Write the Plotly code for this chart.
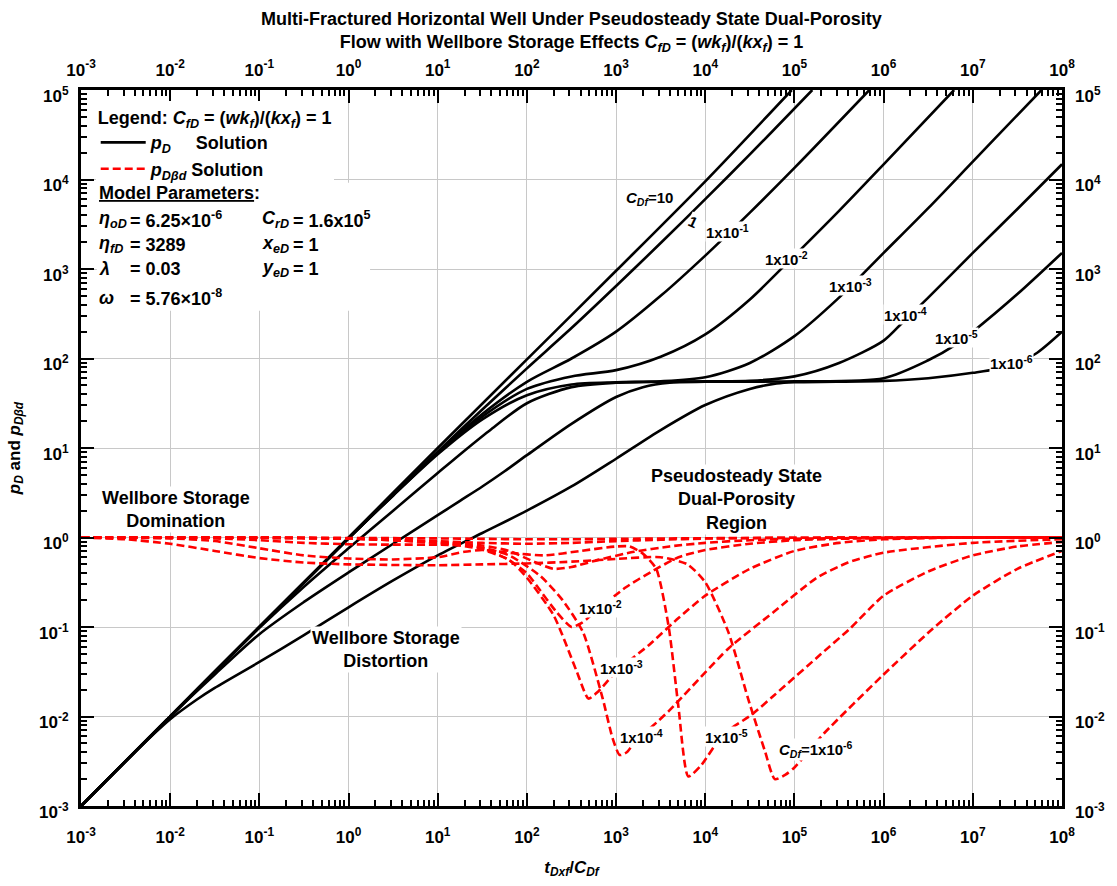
import numpy as np
import plotly.graph_objects as go

# ---------------- data (log10 values) ----------------
cdf_names = ["10", "1", "1e-1", "1e-2", "1e-3", "1e-4", "1e-5", "1e-6"]

# p_D solution curves: log10(tDxf/CDf) and log10(pD)
pd_10_lx = [-3, -2, -1, 0, 1, 2, 3, 4, 4.97]
pd_10_ly = [-3, -2, -1, 0, 1, 1.99, 2.98, 3.98, 5.0]
pd_1_lx = [-3, -2, -1, 0, 0.5, 1, 1.5, 2, 2.5, 3, 3.5, 4, 4.5, 5.2]
pd_1_ly = [-3, -2, -1, -0.01, 0.48, 0.96, 1.43, 1.89, 2.34, 2.81, 3.29, 3.78, 4.28, 5.0]
pd_1e1_lx = [-3, -2, -1, 0, 0.5, 1, 1.5, 2, 2.5, 3, 3.5, 4, 4.5, 5, 5.84]
pd_1e1_ly = [-3, -2, -1, -0.01, 0.48, 0.95, 1.38, 1.74, 2.0, 2.3, 2.7, 3.15, 3.63, 4.13, 5.0]
pd_1e2_lx = [-3, -2, -1, 0, 0.5, 1, 1.5, 2, 2.5, 3, 3.5, 4, 4.5, 5, 5.5, 6, 6.79]
pd_1e2_ly = [-3, -2, -1, -0.01, 0.47, 0.94, 1.35, 1.66, 1.8, 1.87, 2.02, 2.27, 2.66, 3.15, 3.65, 4.17, 5.0]
pd_1e3_lx = [-3, -2, -1, 0, 0.5, 1, 1.5, 2, 2.5, 3, 3.5, 4, 4.5, 5, 5.5, 6, 6.5, 7, 7.5, 7.77]
pd_1e3_ly = [-3, -2, -1, -0.01, 0.47, 0.93, 1.32, 1.59, 1.71, 1.735, 1.745, 1.79, 1.95, 2.25, 2.68, 3.18, 3.68, 4.2, 4.72, 5.0]
pd_1e4_lx = [-3, -2, -1.5, -1, -0.5, 0, 0.5, 1, 1.3, 1.6, 2, 2.5, 3, 3.5, 4, 4.5, 5, 5.5, 6, 6.21, 6.5, 7, 7.5, 8]
pd_1e4_ly = [-3, -2, -1.5, -1.01, -0.55, -0.12, 0.3, 0.72, 0.97, 1.21, 1.5, 1.68, 1.73, 1.74, 1.745, 1.75, 1.8, 1.95, 2.2, 2.4, 2.68, 3.18, 3.67, 4.17]
pd_1e5_lx = [-3, -2, -1.5, -1, -0.5, 0, 0.5, 1, 1.25, 1.5, 1.75, 2, 2.5, 3, 3.3, 3.6, 4, 5, 6, 6.5, 6.8, 7, 7.5, 8]
pd_1e5_ly = [-3, -2, -1.53, -1.08, -0.72, -0.39, -0.07, 0.25, 0.41, 0.57, 0.74, 0.92, 1.27, 1.57, 1.68, 1.73, 1.74, 1.745, 1.78, 1.98, 2.15, 2.3, 2.72, 3.18]
pd_1e6_lx = [-3, -2.5, -2.2, -2, -1.7, -1.5, -1, -0.5, 0, 0.5, 1, 1.5, 2, 2.5, 3, 3.5, 4, 4.5, 4.8, 5, 6, 6.5, 7, 7.43, 7.7, 8]
pd_1e6_ly = [-3, -2.5, -2.21, -2.03, -1.81, -1.68, -1.39, -1.09, -0.78, -0.48, -0.2, 0.05, 0.3, 0.57, 0.88, 1.2, 1.48, 1.66, 1.72, 1.735, 1.75, 1.78, 1.84, 1.92, 2.05, 2.3]

# p_Dbd solution curves: log10(tDxf/CDf) and log10(pDbd)
pb_10_lx = [-3, -1, 0, 1, 1.5, 2, 2.5, 3, 4, 5, 6, 8]
pb_10_ly = [0, 0, -0.005, -0.01, -0.015, -0.02, -0.02, -0.015, -0.008, -0.003, 0, 0]
pb_1_lx = [-3, -1, 0, 0.5, 1, 1.5, 2, 2.5, 3, 3.5, 4, 5, 6, 8]
pb_1_ly = [0, -0.003, -0.01, -0.025, -0.04, -0.06, -0.07, -0.06, -0.04, -0.025, -0.012, -0.003, 0, 0]
pb_1e1_lx = [-3, -1, 0, 0.5, 1, 1.5, 1.8, 2.1, 2.3, 2.5, 2.8, 3.2, 3.6, 4, 4.5, 5, 6, 8]
pb_1e1_ly = [0, -0.003, -0.012, -0.03, -0.05, -0.09, -0.15, -0.28, -0.35, -0.33, -0.25, -0.16, -0.1, -0.06, -0.03, -0.015, -0.003, 0]
pb_1e2_lx = [-3, -1, 0, 0.5, 1, 1.44, 1.78, 2.0, 2.11, 2.33, 2.5, 2.62, 2.8, 3.11, 3.4, 3.7, 4, 4.5, 5, 5.5, 6, 7, 8]
pb_1e2_ly = [0, -0.003, -0.012, -0.03, -0.06, -0.1, -0.24, -0.4, -0.54, -0.83, -1.0, -0.95, -0.8, -0.556, -0.38, -0.22, -0.14, -0.07, -0.03, -0.015, -0.006, 0, 0]
pb_1e3_lx = [-3, -1, 0, 0.5, 1, 1.44, 1.8, 2.0, 2.3, 2.56, 2.69, 2.8, 3.0, 3.37, 3.7, 4, 4.5, 5, 5.5, 6, 7, 8]
pb_1e3_ly = [0, -0.003, -0.012, -0.03, -0.06, -0.12, -0.25, -0.45, -0.87, -1.5, -1.8, -1.72, -1.5, -1.2, -0.9, -0.65, -0.35, -0.15, -0.06, -0.02, 0, 0]
pb_1e4_lx = [-3, -1.5, -1, -0.5, 0, 0.5, 1, 1.44, 1.8, 2.15, 2.4, 2.63, 2.85, 2.96, 3.04, 3.12, 3.2, 3.59, 4.26, 4.77, 5.25, 5.6, 6, 7, 8]
pb_1e4_ly = [0, -0.01, -0.03, -0.06, -0.075, -0.08, -0.08, -0.1, -0.2, -0.43, -0.7, -1.06, -1.8, -2.24, -2.43, -2.4, -2.3, -1.94, -1.24, -0.83, -0.45, -0.28, -0.17, -0.06, -0.02]
pb_1e5_lx = [-3, -2, -1.5, -1, -0.5, 0, 0.5, 1, 1.3, 1.5, 1.8, 2.2, 2.6, 3.0, 3.15, 3.3, 3.45, 3.59, 3.7, 3.81, 3.95, 4.2, 4.52, 4.77, 5.3, 5.62, 6.0, 6.5, 7.0, 7.5, 8]
pb_1e5_ly = [0, -0.01, -0.04, -0.12, -0.2, -0.235, -0.245, -0.22, -0.16, -0.14, -0.17, -0.2, -0.15, -0.1, -0.1, -0.18, -0.35, -1.0, -1.9, -2.67, -2.55, -2.2, -1.98, -1.765, -1.3, -1.02, -0.65, -0.38, -0.2, -0.1, -0.05]
pb_1e6_lx = [-3, -2.5, -2, -1.5, -1, -0.5, 0, 1, 1.5, 2, 2.5, 3.0, 3.5, 3.8, 4.0, 4.26, 4.48, 4.67, 4.78, 4.9, 5.0, 5.33, 5.99, 6.55, 7.0, 7.5, 8]
pb_1e6_ly = [0, -0.02, -0.07, -0.15, -0.23, -0.28, -0.3, -0.31, -0.3, -0.29, -0.27, -0.24, -0.22, -0.3, -0.5, -1.06, -1.8, -2.39, -2.7, -2.65, -2.57, -2.19, -1.54, -1.02, -0.65, -0.35, -0.15]

pd_curves = [(pd_10_lx, pd_10_ly), (pd_1_lx, pd_1_ly), (pd_1e1_lx, pd_1e1_ly), (pd_1e2_lx, pd_1e2_ly),
             (pd_1e3_lx, pd_1e3_ly), (pd_1e4_lx, pd_1e4_ly), (pd_1e5_lx, pd_1e5_ly), (pd_1e6_lx, pd_1e6_ly)]
pb_curves = [(pb_10_lx, pb_10_ly), (pb_1_lx, pb_1_ly), (pb_1e1_lx, pb_1e1_ly), (pb_1e2_lx, pb_1e2_ly),
             (pb_1e3_lx, pb_1e3_ly), (pb_1e4_lx, pb_1e4_ly), (pb_1e5_lx, pb_1e5_ly), (pb_1e6_lx, pb_1e6_ly)]

# tick labels
x_tickvals = [1e-3, 1e-2, 1e-1, 1e0, 1e1, 1e2, 1e3, 1e4, 1e5, 1e6, 1e7, 1e8]
x_ticktext = ["10<sup>-3</sup>", "10<sup>-2</sup>", "10<sup>-1</sup>", "10<sup>0</sup>", "10<sup>1</sup>",
              "10<sup>2</sup>", "10<sup>3</sup>", "10<sup>4</sup>", "10<sup>5</sup>", "10<sup>6</sup>",
              "10<sup>7</sup>", "10<sup>8</sup>"]
y_tickvals = [1e-3, 1e-2, 1e-1, 1e0, 1e1, 1e2, 1e3, 1e4, 1e5]
y_ticktext = ["10<sup>-3</sup>", "10<sup>-2</sup>", "10<sup>-1</sup>", "10<sup>0</sup>", "10<sup>1</sup>",
              "10<sup>2</sup>", "10<sup>3</sup>", "10<sup>4</sup>", "10<sup>5</sup>"]
minor_digits = [2, 3, 4, 5, 6, 7, 8, 9]
x_minor_vals = [d * v for v in x_tickvals[:-1] for d in minor_digits]
y_minor_vals = [d * v for v in y_tickvals[:-1] for d in minor_digits]

# curve labels (log10 positions)
pd_label_text = ["<i>C</i><sub><i>Df</i></sub>=10", "1", "1x10<sup>-1</sup>", "1x10<sup>-2</sup>",
                 "1x10<sup>-3</sup>", "1x10<sup>-4</sup>", "1x10<sup>-5</sup>", "1x10<sup>-6</sup>"]
pd_label_lx = [3.37, 3.86, 4.25, 4.91, 5.63, 6.24, 6.82, 7.43]
pd_label_ly = [3.79, 3.53, 3.42, 3.12, 2.82, 2.49, 2.23, 1.96]
pd_label_angle = [0, 25, 0, 0, 0, 0, 0, 0]
pb_label_text = ["1x10<sup>-2</sup>", "1x10<sup>-3</sup>", "1x10<sup>-4</sup>", "1x10<sup>-5</sup>",
                 "<i>C</i><sub><i>Df</i></sub>=1x10<sup>-6</sup>"]
pb_label_lx = [2.83, 3.06, 3.29, 4.24, 5.24]
pb_label_ly = [-0.785, -1.455, -2.22, -2.22, -2.37]

# ---------------- figure ----------------
FONT = "Liberation Sans, Arial, sans-serif"
fig = go.Figure()

for i, (lx, ly) in enumerate(pd_curves):
    fig.add_trace(go.Scatter(
        x=10 ** np.array(lx), y=10 ** np.array(ly), mode="lines",
        line=dict(color="black", width=2.6, shape="spline", smoothing=0.8),
        name="<i>p</i><sub><i>D</i></sub>\u00a0\u00a0\u00a0\u00a0 Solution",
        legendgroup="pd", showlegend=(i == 0), hoverinfo="skip"))

# red curves are drawn through the mirrored (top / right) axes, which share the same ranges
for i, (lx, ly) in enumerate(pb_curves):
    fig.add_trace(go.Scatter(
        x=10 ** np.array(lx), y=10 ** np.array(ly), mode="lines", xaxis="x2", yaxis="y2",
        line=dict(color="#ff0000", width=2.6, dash="8px,4px", shape="spline", smoothing=0.6),
        name="<i>p</i><sub><i>D\u03b2d</i></sub> Solution",
        legendgroup="pb", showlegend=(i == 0), hoverinfo="skip"))

L, R, T, B = 80, 46, 90, 79
W, H = 1117, 886
PW, PH = W - L - R, H - T - B


def dom(xp, yp):
    return (xp - L) / PW, 1 - (yp - T) / PH


annotations = []
TXT = 18


def add_text(text, xp, yp, size=TXT, xanchor="left", bg=None):
    fx, fy = dom(xp, yp)
    annotations.append(dict(text=text, x=fx, y=fy, xref="x domain", yref="y domain",
                            xanchor=xanchor, yanchor="middle", showarrow=False,
                            font=dict(size=size, family=FONT, color="black", weight="bold"),
                            bgcolor=bg))


add_text("<u>Model Parameters</u>:", 96, 193)
add_text("<i>\u03b7</i><sub><i>oD</i></sub>", 96, 220)
add_text("= 6.25\u00d710<sup>-6</sup>", 127, 220)
add_text("<i>C</i><sub><i>rD</i></sub>", 261, 220)
add_text("= 1.6x10<sup>5</sup>", 292, 220)
add_text("<i>\u03b7</i><sub><i>fD</i></sub>", 96, 245)
add_text("= 3289", 127, 245)
add_text("<i>x</i><sub><i>eD</i></sub>", 261, 245)
add_text("= 1", 292, 245)
add_text("<i>\u03bb</i>", 96, 269)
add_text("= 0.03", 127, 269)
add_text("<i>y</i><sub><i>eD</i></sub>", 261, 269)
add_text("= 1", 292, 269)
add_text("<i>\u03c9</i>", 96, 298)
add_text("= 5.76\u00d710<sup>-8</sup>", 127, 298)

add_text("Wellbore Storage<br>Domination", 176, 510, xanchor="center", bg="white")
add_text("Wellbore Storage<br>Distortion", 388, 650, xanchor="center", bg="white")
add_text("Pseudosteady State<br>Dual-Porosity<br>Region", 742, 500, xanchor="center", bg="white")

for t, lx, ly, ang in zip(pd_label_text, pd_label_lx, pd_label_ly, pd_label_angle):
    annotations.append(dict(text=t, x=lx, y=ly, xref="x", yref="y", showarrow=False, textangle=ang,
                            xanchor="center", yanchor="middle", bgcolor="white", borderpad=0,
                            font=dict(size=15, family=FONT, color="black", weight="bold")))
for t, lx, ly in zip(pb_label_text, pb_label_lx, pb_label_ly):
    annotations.append(dict(text=t, x=lx, y=ly, xref="x", yref="y", showarrow=False,
                            xanchor="center", yanchor="middle", bgcolor="white", borderpad=0,
                            font=dict(size=15, family=FONT, color="black", weight="bold")))

# white panel behind the model parameters (hides the grid there)
bx0, by1 = dom(L + 16, 183)
bx1, by0 = dom(372, 311)
shapes = [dict(type="rect", xref="x domain", yref="y domain", x0=bx0, x1=bx1, y0=by0, y1=by1,
               fillcolor="white", line=dict(width=0), layer="above")]

TICKFONT = dict(size=17, family=FONT, color="black", weight="bold")
axis_common = dict(type="log", tickmode="array", ticks="inside", ticklen=13, tickwidth=2,
                   tickcolor="black", tickfont=TICKFONT, zeroline=False)
xminor = dict(ticks="inside", ticklen=6, tickwidth=1.5, tickcolor="black", tickmode="array",
              tickvals=x_minor_vals, showgrid=False)
yminor = dict(ticks="inside", ticklen=6, tickwidth=1.5, tickcolor="black", tickmode="array",
              tickvals=y_minor_vals, showgrid=False)

fig.update_layout(
    width=W, height=H, margin=dict(l=L, r=R, t=T, b=B),
    paper_bgcolor="white", plot_bgcolor="white",
    font=dict(family=FONT, color="black", weight="bold"),
    title=dict(text="Multi-Fractured Horizontal Well Under Pseudosteady State Dual-Porosity<br>"
                    "Flow with Wellbore Storage Effects <i>C</i><sub><i>fD</i></sub> = "
                    "(<i>wk</i><sub><i>f</i></sub>)/(<i>kx</i><sub><i>f</i></sub>) = 1",
               x=0.5, xref="paper", xanchor="center", y=1 - 25 / H, yref="container", yanchor="middle",
               font=dict(size=18, family=FONT, color="black", weight="bold")),
    xaxis=dict(range=[-3, 8], tickvals=x_tickvals, ticktext=x_ticktext, minor=xminor,
               showgrid=True, gridcolor="#c8c8c8", gridwidth=1,
               showline=True, linecolor="black", linewidth=3, mirror=True,
               title=dict(text="<i>t</i><sub><i>Dxf</i></sub>/<i>C</i><sub><i>Df</i></sub>",
                          font=dict(size=17, family=FONT, color="black", weight="bold")),
               ticklabelstandoff=14, **axis_common),
    yaxis=dict(range=[-3, 5], tickvals=y_tickvals, ticktext=y_ticktext, minor=yminor,
               showgrid=True, gridcolor="#c8c8c8", gridwidth=1,
               showline=True, linecolor="black", linewidth=3, mirror=True,
               title=dict(text="<i>p</i><sub><i>D</i></sub> and <i>p</i><sub><i>D\u03b2d</i></sub>",
                          font=dict(size=17, family=FONT, color="black", weight="bold")),
               ticklabelstandoff=6, ticklabelshift=6, **axis_common),
    xaxis2=dict(range=[-3, 8], tickvals=x_tickvals, ticktext=x_ticktext, minor=xminor,
                overlaying="x", side="top", anchor="y2", showgrid=False, showline=False,
                ticklabelstandoff=10, **axis_common),
    yaxis2=dict(range=[-3, 5], tickvals=y_tickvals, ticktext=y_ticktext, minor=yminor,
                overlaying="y", side="right", anchor="x2", showgrid=False, showline=False,
                ticklabelstandoff=12, ticklabelshift=6, **axis_common),
    legend=dict(x=0.015, y=0.985, xanchor="left", yanchor="top", bgcolor="white",
                borderwidth=0, traceorder="grouped", tracegroupgap=0, itemwidth=45,
                font=dict(size=TXT, family=FONT, color="black", weight="bold"),
                title=dict(text="Legend: <i>C</i><sub><i>fD</i></sub> = (<i>wk</i><sub><i>f</i></sub>)/"
                                "(<i>kx</i><sub><i>f</i></sub>) = 1",
                           font=dict(size=TXT, family=FONT, color="black", weight="bold"))),
    annotations=annotations, shapes=shapes,
)

fig.write_html("out.html")
